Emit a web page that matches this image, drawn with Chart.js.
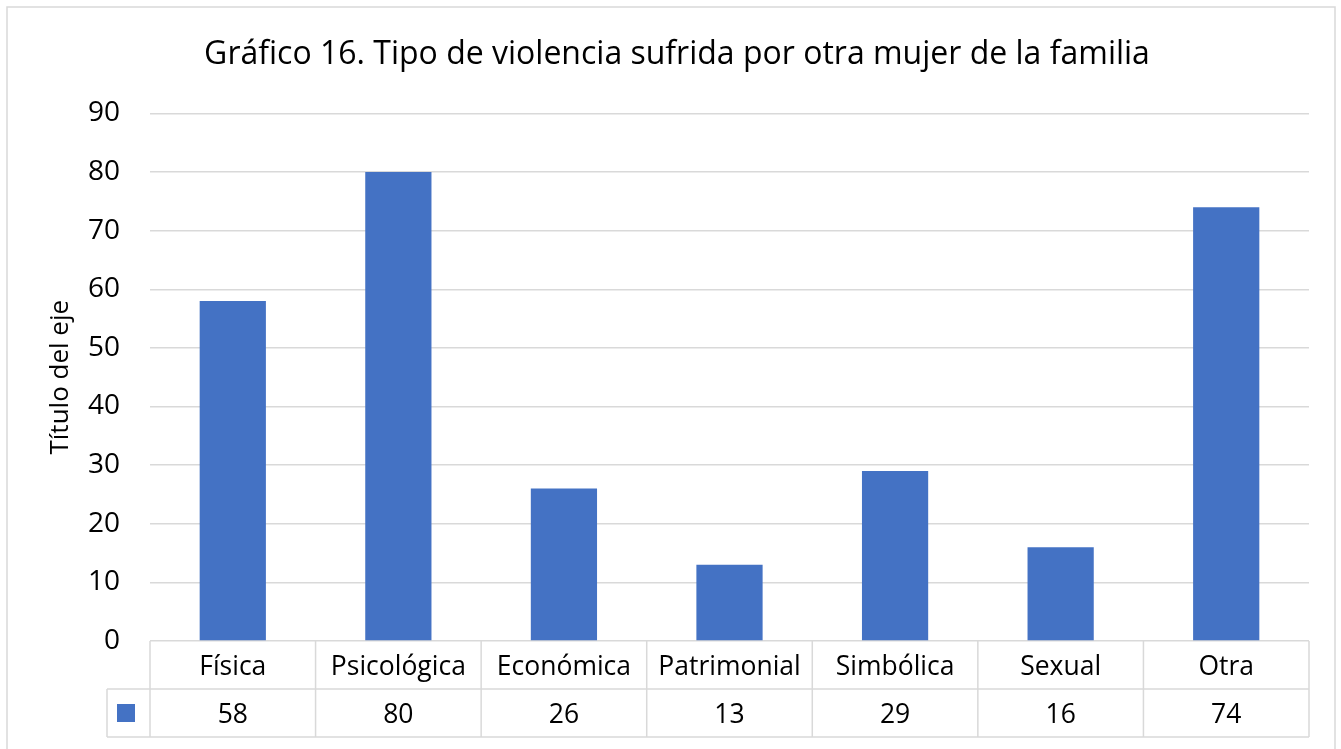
<!DOCTYPE html>
<html>
<head>
<meta charset="utf-8">
<script src="https://cdn.jsdelivr.net/npm/chart.js@4"></script>
<style>
  html, body { margin: 0; padding: 0; background: #fff; }
  #wrap { position: relative; width: 1341px; height: 749px; }
</style>
</head>
<body>
<div id="wrap"><canvas id="chart" width="1341" height="749"></canvas></div>
<script>
// Gráfico 16 - data
const categories = ['Física', 'Psicológica', 'Económica', 'Patrimonial', 'Simbólica', 'Sexual', 'Otra'];
const values = [58, 80, 26, 13, 29, 16, 74];
const yTicks = [0, 10, 20, 30, 40, 50, 60, 70, 80, 90];

const FONT = '"Open Sans", Lato, sans-serif';
const BLUE = '#4472C4';
const LINE = '#d9d9d9';

// data table under the plot (categories row + values row)
const dataTablePlugin = {
    id: 'dataTable',
    afterDraw(chart) {
        const ctx = chart.ctx;
        const area = chart.chartArea;
        const xs = chart.scales.x;
        const step = (area.right - area.left) / categories.length;
        const rowH = 48;
        const top = area.bottom;
        const mid = top + rowH;
        const bot = top + rowH * 2;
        const legendLeft = area.left - 43;

        ctx.save();
        ctx.strokeStyle = LINE;
        ctx.lineWidth = 1.5;
        ctx.beginPath();
        // horizontal lines
        ctx.moveTo(legendLeft, mid); ctx.lineTo(area.right, mid);
        ctx.moveTo(legendLeft, bot); ctx.lineTo(area.right, bot);
        // vertical lines
        for (let i = 0; i <= categories.length; i++) {
            const x = area.left + step * i;
            ctx.moveTo(x, top); ctx.lineTo(x, bot);
        }
        ctx.moveTo(legendLeft, mid); ctx.lineTo(legendLeft, bot);
        ctx.stroke();

        // legend key
        ctx.fillStyle = BLUE;
        ctx.fillRect(legendLeft + 10, mid + 15, 18, 18);

        ctx.fillStyle = '#000';
        ctx.font = '26.5px ' + FONT;
        ctx.textAlign = 'center';
        ctx.textBaseline = 'middle';
        categories.forEach((c, i) => {
            const x = xs.getPixelForValue(i);
            ctx.fillText(c, x, top + rowH / 2 + 2);
            ctx.fillText(String(values[i]), x, mid + rowH / 2 + 2);
        });
        ctx.restore();
    }
};

// outer border of the chart
const borderPlugin = {
    id: 'outerBorder',
    beforeDraw(chart) {
        const ctx = chart.ctx;
        ctx.save();
        ctx.fillStyle = '#fff';
        ctx.fillRect(0, 0, chart.width, chart.height);
        ctx.strokeStyle = LINE;
        ctx.lineWidth = 1.5;
        ctx.strokeRect(7, 7, 1328, 760);
        ctx.restore();
    }
};

new Chart(document.getElementById('chart'), {
    type: 'bar',
    data: {
        labels: categories,
        datasets: [{
            data: values,
            backgroundColor: BLUE,
            barPercentage: 0.4,
            categoryPercentage: 1.0
        }]
    },
    options: {
        responsive: false,
        animation: false,
        layout: { padding: { left: 45, right: 32, top: 0, bottom: 108 } },
        plugins: {
            legend: { display: false },
            tooltip: { enabled: false },
            title: {
                display: true,
                text: 'Gráfico 16. Tipo de violencia sufrida por otra mujer de la familia',
                color: '#000',
                font: { family: FONT, size: 32, weight: 'normal' },
                padding: { top: 36, bottom: 39 }
            }
        },
        scales: {
            x: {
                display: false
            },
            y: {
                min: 0,
                max: 90,
                afterBuildTicks(scale) {
                    scale.ticks = yTicks.map(v => ({ value: v }));
                },
                afterFit(scale) { scale.width = 105; },
                border: { display: false },
                grid: { color: LINE, lineWidth: 1.5, drawTicks: false },
                ticks: {
                    color: '#000',
                    padding: 30,
                    font: { family: FONT, size: 28 }
                },
                title: {
                    display: true,
                    text: 'Título del eje',
                    color: '#000',
                    font: { family: FONT, size: 26 },
                    padding: { top: 0, bottom: 0 }
                }
            }
        }
    },
    plugins: [borderPlugin, dataTablePlugin]
});
</script>
</body>
</html>
